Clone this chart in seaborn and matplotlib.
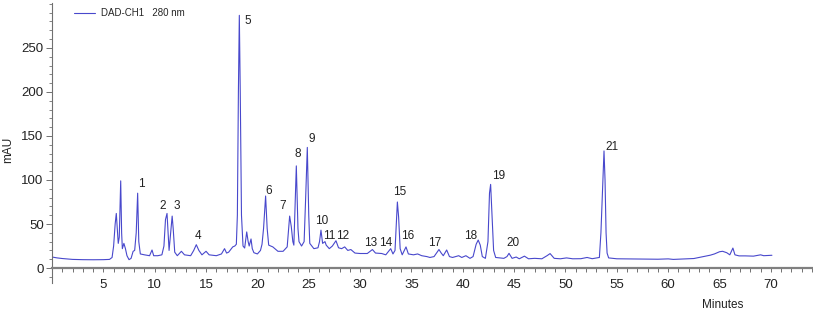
import matplotlib
matplotlib.use('Agg')
import matplotlib.pyplot as plt
import matplotlib.ticker as mticker
import pandas as pd
import seaborn as sns

# chromatogram trace (minutes, mAU)
times = [0.0, 0.5, 1.0, 2.0, 3.0, 4.0, 5.0, 5.6, 5.85, 6.0, 6.15, 6.26, 6.35, 6.45, 6.55,
         6.69, 6.78, 6.85, 7.0, 7.15, 7.3, 7.5, 7.7, 7.9, 8.05, 8.2, 8.34, 8.45, 8.6, 9.0,
         9.5, 9.74, 9.9, 10.3, 10.7, 10.9, 11.05, 11.2, 11.3, 11.4, 11.55, 11.7, 11.8, 11.95,
         12.2, 12.6, 12.9, 13.5, 13.8, 14.05, 14.3, 14.6, 15.0, 15.3, 16.0, 16.5, 16.8, 17.0,
         17.2, 17.6, 17.8, 17.95, 18.05, 18.15, 18.24, 18.33, 18.45, 18.6, 18.76, 18.96, 19.1,
         19.2, 19.38, 19.5, 19.66, 20.0, 20.3, 20.45, 20.6, 20.8, 20.95, 21.1, 21.5, 22.0, 22.5,
         22.9, 23.14, 23.3, 23.45, 23.55, 23.79, 23.95, 24.05, 24.3, 24.55, 24.7, 24.86, 25.0,
         25.1, 25.5, 25.9, 26.05, 26.19, 26.35, 26.58, 26.7, 27.0, 27.3, 27.65, 27.9, 28.2,
         28.5, 28.8, 29.1, 29.5, 30.0, 30.7, 31.2, 31.5, 32.1, 32.5, 32.98, 33.2, 33.4, 33.63,
         33.75, 33.9, 34.1, 34.47, 34.7, 35.2, 35.6, 36.0, 36.5, 36.8, 37.2, 37.5, 37.68, 37.9,
         38.1, 38.43, 38.7, 39.0, 39.6, 39.9, 40.3, 40.7, 41.0, 41.3, 41.5, 41.7, 41.9, 42.2,
         42.45, 42.6, 42.71, 42.85, 43.0, 43.2, 44.0, 44.3, 44.5, 44.8, 45.2, 45.5, 46.0, 46.4,
         47.0, 47.7, 48.2, 48.5, 48.9, 49.5, 50.1, 50.7, 51.5, 52.1, 52.6, 53.3, 53.45, 53.55,
         53.75, 53.85, 53.95, 54.05, 54.2, 55.0, 56.0, 57.0, 58.0, 59.0, 60.0, 60.5, 61.4,
         62.5, 63.6, 64.1, 64.5, 65.0, 65.3, 65.7, 66.0, 66.3, 66.5, 66.9, 67.5, 68.3, 69.0,
         69.3, 70.1]
signal = [12.5, 11.5, 10.8, 9.8, 9.5, 9.4, 9.5, 9.8, 12, 25, 50, 62, 45, 28, 35,
          99, 40, 22, 28, 22, 14, 9.5, 11, 19, 20, 40, 85, 30, 16, 15,
          14, 20.5, 14, 14, 15, 25, 55, 62, 40, 20, 40, 59, 45, 18,
          14, 19, 15, 14, 20, 26.5, 20, 15, 19, 15, 14, 16, 22, 17,
          18, 24, 25, 27, 60, 200, 287, 200, 60, 25, 22.7, 41, 30,
          25, 33, 22, 17.4, 16, 20, 27, 45, 81.8, 45, 26, 24, 19, 19,
          24, 59, 47, 30, 26, 116, 45, 30, 25, 30, 80, 137, 60,
          28, 22, 23, 30, 43, 28, 30, 26, 22, 25, 31, 23, 22,
          24, 20, 21, 17, 16.5, 16.5, 21, 17, 16.5, 15, 22, 16, 20, 75,
          58, 22, 15, 24, 16, 15, 16, 14, 13, 12, 13, 18, 21, 17,
          14, 20.5, 13, 12, 14, 12, 14, 11, 13, 27, 31.8, 26, 13, 11,
          30, 85, 95, 60, 20, 12, 11, 13, 16.7, 11, 12.5, 10.5, 13.5, 10.5,
          11, 10.5, 14, 16.4, 11, 10.5, 11.5, 10.5, 10.6, 12, 10.6, 12, 40, 70,
          133, 100, 40, 17, 11.5, 10.5, 10.4, 10.4, 10.2, 10, 10.4, 9.8, 10.2,
          10.8, 13.5, 14.6, 16, 18.5, 19, 17.4, 15, 22.7, 15, 13.8, 13.8, 13.5, 15,
          14, 14.5]

# peak numbers and where their labels sit
peak_ids = [str(i) for i in range(1, 22)]
label_t = [8.73, 10.78, 12.14, 14.25, 19.1, 21.1, 22.5, 23.9, 25.3, 26.26, 26.97,
           28.3, 31.06, 32.5, 33.9, 34.63, 37.3, 40.8, 43.5, 44.9, 54.5]
label_v = [96, 70.5, 70.5, 36.4, 281, 88, 70.8, 129.5, 147, 53.4, 36.4,
           36.4, 28, 28, 86.7, 36.4, 28, 36.4, 104.5, 28, 138]

df = pd.DataFrame({'Minutes': times, 'mAU': signal})

sns.set_style('ticks')
plt.rcParams['font.family'] = ['Liberation Sans', 'DejaVu Sans']

fig = plt.figure(figsize=(8.13, 3.12), dpi=100)
ax = fig.add_axes([52 / 813, 29 / 312, 1 - 52 / 813, 280 / 312])

sns.lineplot(data=df, x='Minutes', y='mAU', ax=ax, color='#4848cc', lw=0.8,
             estimator=None, label='DAD-CH1   280 nm')

for pid, t, v in zip(peak_ids, label_t, label_v):
    ax.text(t, v, pid, fontsize=8.5, ha='center', va='center', color='#222222')

ax.set_xlim(0, 74.1)
ax.set_ylim(-17, 301)
ax.spines['top'].set_visible(False)
ax.spines['right'].set_visible(False)
ax.spines['bottom'].set_position(('data', 0))
ax.spines['bottom'].set_color('#808080')
ax.spines['bottom'].set_linewidth(1.6)
ax.spines['left'].set_color('#707070')
ax.spines['left'].set_linewidth(0.8)

ax.set_xticks(range(5, 71, 5))
ax.xaxis.set_minor_locator(mticker.MultipleLocator(1))
ax.set_yticks(range(0, 251, 50))
ax.yaxis.set_minor_locator(mticker.MultipleLocator(10))
ax.tick_params(axis='x', which='both', direction='out', length=3, width=0.7,
               color='#707070', labelsize=9.5, pad=5, labelcolor='#222222')
ax.tick_params(axis='y', which='major', direction='out', length=4, width=0.7,
               color='#707070', labelsize=9.5, pad=2, labelcolor='#222222')
ax.tick_params(axis='y', which='minor', direction='out', length=2.5, width=0.6,
               color='#707070')

ax.set_xlabel('')
ax.set_ylabel('')
fig.text(723 / 813, 1 - 305 / 312, 'Minutes', fontsize=8.5, ha='center', va='center',
         color='#222222')
fig.text(8 / 813, 1 - 150 / 312, 'mAU', fontsize=8.5, ha='center', va='center',
         rotation=90, color='#222222')

ax.legend(loc='upper left', bbox_to_anchor=(74 / 813, 1 - 8 / 312),
          bbox_transform=fig.transFigure, frameon=False, fontsize=7,
          handlelength=2.2, handletextpad=0.6, borderpad=0, borderaxespad=0)

fig.savefig('out.png', dpi=100)
